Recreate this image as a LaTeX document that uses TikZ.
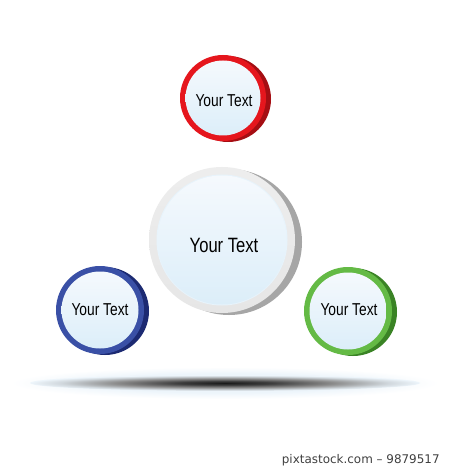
\documentclass[tikz,border=0pt]{standalone}
\usepackage{fontspec}
\setmainfont{Liberation Sans}
\newfontfamily\narrowfont[FakeStretch=0.8]{Liberation Sans}
\newfontfamily\capfont{DejaVu Sans}
\usepackage{xcolor}

\definecolor{redring}{HTML}{E5161D}
\definecolor{redside}{HTML}{A50E13}
\definecolor{bluering}{HTML}{3A50A6}
\definecolor{blueside}{HTML}{1C2A72}
\definecolor{greenring}{HTML}{64BA45}
\definecolor{greenside}{HTML}{3A8325}
\definecolor{grayring}{HTML}{E6E6E6}
\definecolor{grayside}{HTML}{A6A6A6}
\definecolor{facetop}{HTML}{F5F9FD}
\definecolor{facebot}{HTML}{DCEEF9}
\definecolor{halo}{HTML}{EDF5FB}

% edge of a shaded path sits at 25bp
\pgfdeclareradialshading{floorshadow}{\pgfpoint{0bp}{0bp}}{color(0bp)=(black!90); color(6bp)=(black!76); color(14bp)=(black!45); color(21bp)=(black!12!halo); color(25bp)=(halo); color(50bp)=(halo)}
\pgfdeclareradialshading{floorhalo}{\pgfpoint{0bp}{0bp}}{color(0bp)=(halo); color(15bp)=(halo); color(25bp)=(white); color(50bp)=(white)}

\tikzset{
  face/.style={top color=facetop, bottom color=facebot},
  smalltxt/.style={font=\narrowfont\fontsize{9.8}{11}\selectfont, text=black, inner sep=0pt},
  bigtxt/.style={font=\narrowfont\fontsize{11.8}{13}\selectfont, text=black, inner sep=0pt}
}

\begin{document}
\begin{tikzpicture}[x=0.02cm, y=-0.02cm]
  \useasboundingbox[fill=white] (0,0) rectangle (450,469);

  % Floor shadow
  \shade[shading=floorhalo] (225,383) ellipse (214 and 16);
  \shade[shading=floorshadow] (225,383) ellipse (195 and 8);

  % Top (red)
  \fill[redside] (228,99) circle (43);
  \fill[redring] (223,98) circle (43);
  \shade[face] (223,98) circle (37.5);
  \node[smalltxt] (red) at (224,100.5) {Your Text};

  % Centre (gray)
  \fill[grayside] (229,242) circle (73);
  \shade[top color=grayring!70!white, bottom color=grayring] (222,240) circle (73);
  \fill[facebot!70!white] (222,240) circle (65.5);
  \shade[face] (222,240) circle (64.5);
  \node[bigtxt] (centre) at (224,245) {Your Text};

  % Left (blue)
  \fill[blueside] (105,311) circle (44);
  \fill[bluering] (100,310) circle (44);
  \shade[face] (100,310) circle (38.5);
  \node[smalltxt] (blue) at (100,310) {Your Text};

  % Right (green)
  \fill[greenside] (353,312) circle (44);
  \fill[greenring] (348,311) circle (44);
  \shade[face] (348,311) circle (38.5);
  \node[smalltxt] (green) at (349,310) {Your Text};

  % Caption
  \node[font=\capfont\fontsize{6.8}{8}\selectfont, text=black!75, anchor=east, inner sep=0pt] (caption) at (440,460) {pixtastock.com – 9879517};
\end{tikzpicture}
\end{document}
